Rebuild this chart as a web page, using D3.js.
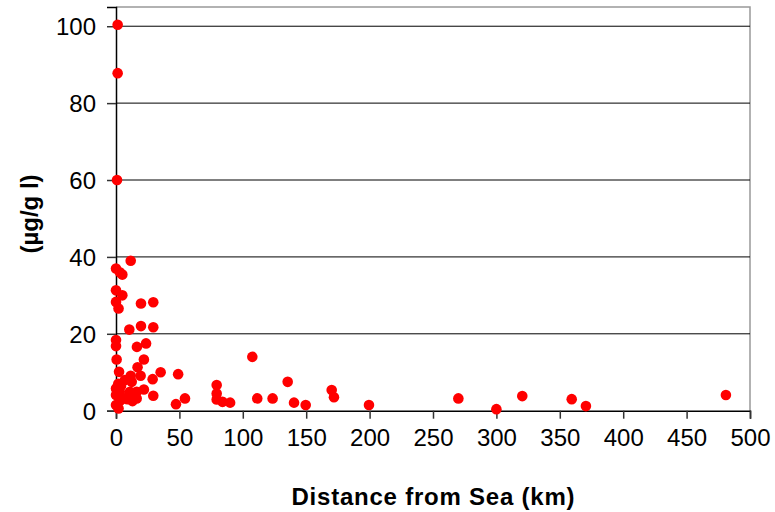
<!DOCTYPE html>
<html lang="en">
<head>
<meta charset="utf-8">
<title>Distance from Sea</title>
<script src="https://d3js.org/d3.v7.min.js"></script>
<style>
body { margin: 0; background: #fff; }
svg { display: block; font-family: "Liberation Sans", Arial, sans-serif; }
</style>
</head>
<body>
<div id="plot"></div>
<script>
// distance from sea (km) and concentration (µg/g l)
var dist = [1.3, 1.3, 0.8, 11.6, 0, 3, 5, 0, 5, 0, 2, 19.7, 29.4, 10.5, 19.7, 29.4,
  0, 0, 16.5, 23.7, 0.5, 22, 2.4, 17, 11.6, 19.4, 35.2, 28.9, 49, 1.8, 7, 12.4,
  0, 0, 3, 7, 11, 16.3, 16.3, 0, 2, 29.4, 54.4, 47.3, 4, 9, 13, 22, 3,
  107.5, 79.4, 79.4, 79.4, 84, 90, 111.4, 123.5, 135.4, 140.4, 149.6, 170.1, 171.9,
  199.5, 270, 300, 320.4, 359.4, 370.6, 481];
var conc = [100.4, 87.8, 60, 39, 37, 36, 35.4, 31.3, 30, 28.3, 26.6, 27.9, 28.2, 21.1, 22, 21.7,
  18.4, 16.8, 16.6, 17.5, 13.3, 13.3, 10.1, 11.3, 9.1, 9.1, 10, 8.2, 9.5, 7, 8, 7.5,
  5.8, 4.1, 4.9, 3.2, 4.9, 4.9, 3.2, 1.5, 0.6, 3.9, 3.2, 1.7, 6.5, 3, 2.5, 5.5, 2.5,
  14, 6.7, 4.5, 2.9, 2.3, 2.1, 3.2, 3.2, 7.5, 2.1, 1.5, 5.4, 3.5,
  1.5, 3.2, 0.4, 3.8, 3, 1.2, 4.1];
var xTicks = [0, 50, 100, 150, 200, 250, 300, 350, 400, 450, 500];
var yTicks = [0, 20, 40, 60, 80, 100];

var width = 775, height = 512;
var plotL = 116, plotR = 750, plotT = 7, plotB = 410.7;

var svg = d3.select("#plot").append("svg")
  .attr("width", width).attr("height", height);

var x = d3.scaleLinear().domain([0, 500]).range([plotL, plotR]);
var y = d3.scaleLinear().domain([0, 105]).range([plotB, plotT]);

// plot frame (gray top/right)
svg.append("path")
  .attr("d", "M" + plotL + "," + plotT + "H" + plotR + "V" + plotB)
  .attr("fill", "none").attr("stroke", "#999").attr("stroke-width", 1.5);

// gridlines
svg.selectAll("line.grid")
  .data(yTicks.filter(d => d > 0))
  .enter().append("line")
  .attr("class", "grid")
  .attr("x1", plotL).attr("x2", plotR)
  .attr("y1", d => y(d)).attr("y2", d => y(d))
  .attr("stroke", "#000").attr("stroke-width", 1);

// axes
var xAxis = svg.append("g")
  .attr("transform", "translate(0," + plotB + ")")
  .call(d3.axisBottom(x).tickValues(xTicks).tickSize(8).tickPadding(5));
var yAxis = svg.append("g")
  .attr("transform", "translate(" + plotL + ",0)")
  .call(d3.axisLeft(y).tickValues(yTicks).tickSize(9).tickPadding(11));

[xAxis, yAxis].forEach(function(g) {
  g.select(".domain").attr("stroke", "#000").attr("stroke-width", 1.5);
  g.selectAll(".tick line").attr("stroke", "#333").attr("stroke-width", 1.5);
  g.selectAll("text").attr("fill", "#000")
    .style("font-family", "'Liberation Sans', Arial, sans-serif")
    .style("font-size", "24px");
});
xAxis.selectAll("text").attr("dy", "0.92em");
yAxis.selectAll("text").attr("dy", "0.36em");

// points
svg.selectAll("circle.pt")
  .data(d3.range(dist.length))
  .enter().append("circle")
  .attr("class", "pt")
  .attr("cx", i => x(dist[i]))
  .attr("cy", i => y(conc[i]))
  .attr("r", 5.3)
  .attr("fill", "#ff0000");

// axis titles
svg.append("text")
  .attr("x", 433).attr("y", 505)
  .attr("text-anchor", "middle")
  .attr("textLength", 283).attr("lengthAdjust", "spacing")
  .style("font-weight", "bold").style("font-size", "24px")
  .text("Distance from Sea (km)");

svg.append("text")
  .attr("transform", "translate(38,214) rotate(-90)")
  .attr("text-anchor", "middle")
  .style("font-weight", "bold").style("font-size", "24px")
  .text("(µg/g l)");
</script>
</body>
</html>
